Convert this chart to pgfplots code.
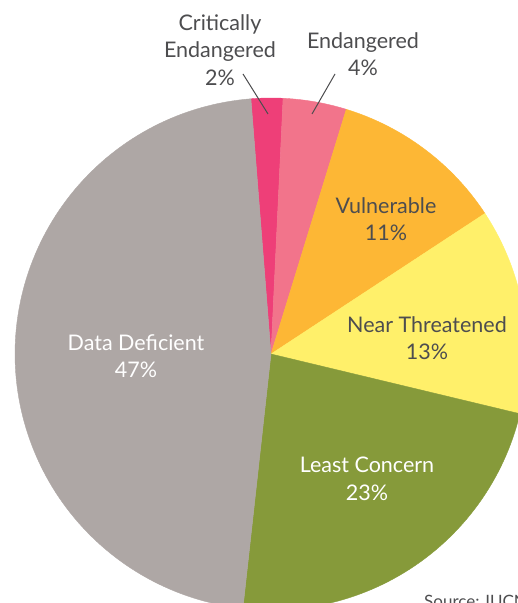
\documentclass[border=0pt]{standalone}
\usepackage{pgfplots}
\pgfplotsset{compat=1.18}
\usepackage{fontspec}
\setmainfont{Lato}
\definecolor{ddgray}{HTML}{AEA7A5}
\definecolor{cr}{HTML}{EE3F78}
\definecolor{en}{HTML}{F2748B}
\definecolor{vu}{HTML}{FDB735}
\definecolor{nt}{HTML}{FFF06A}
\definecolor{lc}{HTML}{869A3A}
\definecolor{txt}{HTML}{4D4D4F}
% shares (percent), clockwise from the top
\def\pCR{2}\def\pEN{4}\def\pVU{11}\def\pNT{13}\def\pLC{23}\def\pDD{47}
\def\start{94.5}
\pgfmathsetmacro\aA{\start-3.6*\pCR}
\pgfmathsetmacro\aB{\aA-3.6*\pEN}
\pgfmathsetmacro\aC{\aB-3.6*\pVU}
\pgfmathsetmacro\aD{\aC-3.6*\pNT}
\pgfmathsetmacro\aE{\aD-3.6*\pLC}
\pgfmathsetmacro\aF{\aE-3.6*\pDD}
\def\cx{271}\def\cy{249}\def\r{256}
\begin{document}
\begin{tikzpicture}
\begin{axis}[
  scale only axis, width=518pt, height=603pt,
  xmin=0, xmax=518, ymin=0, ymax=603,
  hide axis, clip=true,
  every axis plot/.append style={line width=0.4pt},
]
\addplot[fill=cr, draw=cr, domain=\aA:\start, samples=20] ({\cx+\r*cos(x)},{\cy+\r*sin(x)}) -- (axis cs:\cx,\cy) -- cycle;
\addplot[fill=en, draw=en, domain=\aB:\aA, samples=20] ({\cx+\r*cos(x)},{\cy+\r*sin(x)}) -- (axis cs:\cx,\cy) -- cycle;
\addplot[fill=vu, draw=vu, domain=\aC:\aB, samples=40] ({\cx+\r*cos(x)},{\cy+\r*sin(x)}) -- (axis cs:\cx,\cy) -- cycle;
\addplot[fill=nt, draw=nt, domain=\aD:\aC, samples=40] ({\cx+\r*cos(x)},{\cy+\r*sin(x)}) -- (axis cs:\cx,\cy) -- cycle;
\addplot[fill=lc, draw=lc, domain=\aE:\aD, samples=60] ({\cx+\r*cos(x)},{\cy+\r*sin(x)}) -- (axis cs:\cx,\cy) -- cycle;
\addplot[fill=ddgray, draw=ddgray, domain=\aF:\aE, samples=120] ({\cx+\r*cos(x)},{\cy+\r*sin(x)}) -- (axis cs:\cx,\cy) -- cycle;
% leader lines
\addplot[draw=txt, line width=1pt] coordinates {(243,529) (268,489)};
\addplot[draw=txt, line width=1pt] coordinates {(335,529) (312,489)};
\end{axis}
\begin{scope}[every node/.style={align=center, font=\fontsize{21.5}{27.5}\selectfont}]
\node[text=txt] at (220pt,553pt) {Critically\\Endangered\\2\%};
\node[text=txt] at (363pt,549pt) {Endangered\\4\%};
\node[text=txt] at (386pt,384pt) {Vulnerable\\11\%};
\node[text=txt] at (427pt,265pt) {Near Threatened\\13\%};
\node[text=white] at (136pt,247pt) {Data Deficient\\47\%};
\node[text=white] at (367pt,124pt) {Least Concern\\23\%};
\end{scope}
\node[text=txt, anchor=base west, font=\fontsize{17}{18}\selectfont, inner sep=0pt] at (424pt,-5pt) {Source: IUCN};
\pgfresetboundingbox
\path (0pt,0pt) rectangle (518pt,603pt);
\end{tikzpicture}
\end{document}
